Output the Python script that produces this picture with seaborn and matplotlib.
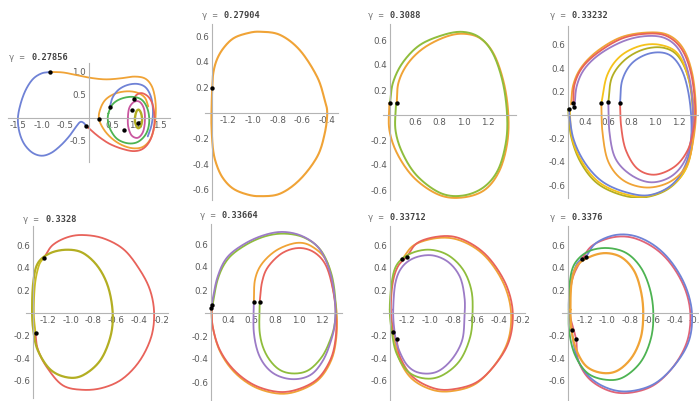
import numpy as np
import matplotlib
matplotlib.use("Agg")
import matplotlib.pyplot as plt
from matplotlib.ticker import FixedLocator, AutoMinorLocator
import seaborn as sns

sns.set_style("white")
plt.rcParams["font.family"] = ["DejaVu Sans"]
plt.rcParams["axes.unicode_minus"] = False

W, H = 699, 401

# ---------------- panel values ----------------
GAMMAS = ["0.27856", "0.27904", "0.3088", "0.33232",
          "0.3328", "0.33664", "0.33712", "0.3376"]

# gamma = 0.27856
P1_BLUE_OUT = [(-0.82, 1.0), (-1.0, 0.97), (-1.18, 0.85), (-1.33, 0.62), (-1.44, 0.32), (-1.5, 0.0),
               (-1.47, -0.3), (-1.37, -0.56), (-1.2, -0.75), (-1.0, -0.82), (-0.8, -0.76), (-0.6, -0.6),
               (-0.42, -0.4), (-0.28, -0.2), (-0.19, -0.09), (-0.12, -0.1), (-0.06, -0.17)]
P1_ORANGE = [(-0.82, 1.0), (-0.55, 0.99), (-0.25, 0.93), (0.05, 0.87), (0.35, 0.84), (0.65, 0.86),
             (0.95, 0.9), (1.18, 0.86), (1.32, 0.7), (1.39, 0.45), (1.41, 0.15), (1.38, -0.18),
             (1.3, -0.45), (1.15, -0.62), (0.95, -0.66), (0.72, -0.6), (0.5, -0.46), (0.32, -0.26),
             (0.21, -0.02), (0.24, 0.2), (0.35, 0.4), (0.55, 0.53), (0.8, 0.58), (1.02, 0.55),
             (1.18, 0.44), (1.25, 0.25)]
P1_BLUE_IN = [(0.44, 0.24), (0.5, 0.45), (0.63, 0.62), (0.82, 0.72), (1.03, 0.74), (1.2, 0.66),
              (1.31, 0.45), (1.35, 0.15), (1.32, -0.15), (1.24, -0.4)]
P1_RED = [(-0.06, -0.17), (0.08, -0.3), (0.25, -0.44), (0.45, -0.57), (0.7, -0.67), (0.95, -0.72),
          (1.15, -0.66), (1.3, -0.46), (1.38, -0.12), (1.36, 0.22), (1.27, 0.44), (1.12, 0.54),
          (1.0, 0.5), (0.95, 0.41)]
P1_GREEN = [(0.41, 0.1), (0.5, 0.3), (0.68, 0.42), (0.92, 0.46), (1.12, 0.39), (1.24, 0.18),
            (1.27, -0.1), (1.2, -0.35), (1.03, -0.52), (0.82, -0.55), (0.6, -0.46), (0.46, -0.27),
            (0.40, -0.07)]
P1_MAGENTA = [(0.82, 0.0), (0.85, 0.22), (0.95, 0.35), (1.07, 0.35), (1.16, 0.2), (1.18, -0.05),
              (1.14, -0.3), (1.03, -0.43), (0.9, -0.38), (0.83, -0.2)]
P1_OLIVE = [(0.97, 0.0), (1.0, 0.14), (1.05, 0.18), (1.1, 0.1), (1.12, -0.05), (1.09, -0.18),
            (1.03, -0.22), (0.98, -0.12)]
P1_DOTS = [(-0.82, 1.0), (-0.06, -0.17), (0.21, -0.02), (0.44, 0.24), (0.95, 0.41), (0.91, 0.17),
           (0.74, -0.26), (1.03, -0.11)]

# gamma = 0.27904
P2_ORANGE = [(-1.327, 0.198), (-1.319, 0.31), (-1.291, 0.414), (-1.238, 0.505), (-1.157, 0.583),
             (-1.049, 0.622), (-0.942, 0.635), (-0.78, 0.61), (-0.62, 0.49), (-0.48, 0.28),
             (-0.42, 0.10), (-0.40, 0.0), (-0.42, -0.16), (-0.48, -0.34), (-0.62, -0.52),
             (-0.78, -0.63), (-0.94, -0.65), (-1.05, -0.635), (-1.16, -0.59), (-1.24, -0.51),
             (-1.29, -0.41), (-1.32, -0.29), (-1.333, -0.1), (-1.332, 0.05)]
P2_DOTS = [(-1.327, 0.198)]

# gamma = 0.3088
P3_GREEN = [(0.395, 0.096), (0.42, 0.26), (0.50, 0.42), (0.64, 0.56), (0.83, 0.64), (0.99, 0.665),
            (1.13, 0.62), (1.24, 0.49), (1.32, 0.26), (1.355, 0.0), (1.345, -0.22), (1.28, -0.44),
            (1.16, -0.58), (0.99, -0.645), (0.81, -0.625), (0.62, -0.49), (0.50, -0.31),
            (0.44, -0.12), (0.445, 0.096)]
P3_ORANGE = [(0.45, 0.096), (0.465, 0.26), (0.54, 0.41), (0.67, 0.535), (0.85, 0.625), (1.0, 0.65),
             (1.14, 0.61), (1.25, 0.48), (1.33, 0.25), (1.365, 0.0), (1.355, -0.23), (1.29, -0.45),
             (1.17, -0.6), (0.99, -0.66), (0.80, -0.64), (0.6, -0.51), (0.46, -0.32), (0.39, -0.12),
             (0.39, 0.096)]
P3_DOTS = [(0.395, 0.096), (0.45, 0.096)]

# gamma = 0.33232
P4_RED = [(0.30, 0.10), (0.31, 0.26), (0.38, 0.41), (0.52, 0.54), (0.72, 0.655), (0.93, 0.695),
          (1.10, 0.675), (1.23, 0.56), (1.31, 0.35), (1.345, 0.06), (1.33, -0.12), (1.28, -0.3),
          (1.17, -0.44), (1.0, -0.51), (0.85, -0.46), (0.75, -0.3), (0.71, -0.1), (0.70, 0.10)]
P4_BLUE = [(0.70, 0.10), (0.72, 0.3), (0.81, 0.45), (0.97, 0.53), (1.13, 0.51), (1.24, 0.36),
           (1.30, 0.1), (1.31, -0.2), (1.26, -0.43), (1.14, -0.6), (0.95, -0.685), (0.75, -0.66),
           (0.55, -0.57), (0.40, -0.41), (0.30, -0.2), (0.26, 0.05)]
P4_PURPLE = [(0.31, 0.07), (0.33, 0.25), (0.40, 0.40), (0.54, 0.53), (0.74, 0.635), (0.93, 0.675),
             (1.09, 0.655), (1.21, 0.55), (1.29, 0.34), (1.325, 0.06), (1.31, -0.2), (1.25, -0.4),
             (1.13, -0.53), (0.96, -0.575), (0.79, -0.51), (0.66, -0.37), (0.61, -0.15), (0.60, 0.11)]
P4_OLIVE = [(0.60, 0.11), (0.63, 0.32), (0.74, 0.47), (0.90, 0.56), (1.07, 0.575), (1.20, 0.5),
            (1.29, 0.3), (1.325, 0.0), (1.31, -0.3), (1.24, -0.5), (1.1, -0.64), (0.9, -0.705),
            (0.7, -0.68), (0.5, -0.58), (0.36, -0.4), (0.28, -0.18), (0.255, 0.05)]
P4_ORANGE = [(0.28, 0.09), (0.30, 0.26), (0.37, 0.41), (0.51, 0.55), (0.71, 0.665), (0.93, 0.705),
             (1.11, 0.685), (1.24, 0.57), (1.32, 0.35), (1.35, 0.05), (1.33, -0.2), (1.27, -0.43),
             (1.13, -0.57), (0.93, -0.62), (0.73, -0.56), (0.60, -0.40), (0.55, -0.15), (0.54, 0.10)]
P4_YELLOW = [(0.54, 0.10), (0.59, 0.34), (0.70, 0.50), (0.87, 0.59), (1.04, 0.60), (1.19, 0.53),
             (1.28, 0.34), (1.335, 0.05), (1.32, -0.25), (1.26, -0.47), (1.12, -0.62), (0.92, -0.695),
             (0.72, -0.67), (0.52, -0.575), (0.38, -0.41), (0.29, -0.2), (0.27, 0.04)]
P4_DOTS = [(0.26, 0.05), (0.30, 0.10), (0.31, 0.07), (0.54, 0.10), (0.60, 0.11), (0.70, 0.10)]

# gamma = 0.3328
P5_RED = [(-1.235, 0.49), (-1.16, 0.60), (-1.03, 0.67), (-0.89, 0.69), (-0.71, 0.66), (-0.53, 0.56),
          (-0.39, 0.38), (-0.30, 0.20), (-0.265, 0.0), (-0.29, -0.21), (-0.39, -0.42), (-0.54, -0.58),
          (-0.71, -0.66), (-0.89, -0.68), (-1.07, -0.64), (-1.21, -0.48), (-1.29, -0.32), (-1.31, -0.18)]
P5_OLIVE = [(-1.34, 0.03), (-1.33, 0.27), (-1.29, 0.44), (-1.18, 0.53), (-1.03, 0.56), (-0.89, 0.53),
            (-0.76, 0.41), (-0.67, 0.23), (-0.63, 0.0), (-0.65, -0.21), (-0.74, -0.42), (-0.89, -0.55),
            (-1.03, -0.57), (-1.18, -0.50), (-1.29, -0.33), (-1.33, -0.15)]
P5_YELLOW = [(-1.31, -0.18), (-1.325, 0.0), (-1.315, 0.25), (-1.28, 0.42), (-1.235, 0.49)]
P5_DOTS = [(-1.235, 0.49), (-1.31, -0.18)]

# gamma = 0.33664
P6_PURPLE = [(0.26, 0.07), (0.31, 0.31), (0.39, 0.48), (0.53, 0.595), (0.70, 0.675), (0.87, 0.705),
             (1.04, 0.665), (1.18, 0.555), (1.27, 0.35), (1.31, 0.11), (1.31, -0.08), (1.28, -0.23),
             (1.21, -0.41), (1.10, -0.54), (0.94, -0.575), (0.78, -0.52), (0.67, -0.38), (0.62, -0.17),
             (0.62, 0.10)]
P6_GREEN = [(0.265, 0.05), (0.315, 0.30), (0.40, 0.47), (0.54, 0.585), (0.71, 0.665), (0.88, 0.69),
            (1.05, 0.655), (1.19, 0.545), (1.28, 0.34), (1.315, 0.1), (1.31, -0.08), (1.275, -0.22),
            (1.20, -0.38), (1.08, -0.50), (0.94, -0.525), (0.82, -0.48), (0.72, -0.35), (0.67, -0.17),
            (0.67, 0.10)]
P6_ORANGE = [(0.62, 0.10), (0.63, 0.29), (0.69, 0.43), (0.82, 0.55), (0.99, 0.61), (1.12, 0.575),
             (1.24, 0.45), (1.29, 0.23), (1.325, 0.0), (1.32, -0.23), (1.275, -0.42), (1.165, -0.585),
             (0.99, -0.68), (0.82, -0.70), (0.62, -0.64), (0.45, -0.51), (0.33, -0.33), (0.27, -0.12),
             (0.26, 0.05)]
P6_RED = [(0.67, 0.10), (0.69, 0.27), (0.74, 0.40), (0.86, 0.52), (1.00, 0.565), (1.13, 0.53),
          (1.23, 0.42), (1.29, 0.22), (1.32, -0.02), (1.315, -0.23), (1.27, -0.41), (1.16, -0.575),
          (0.99, -0.665), (0.82, -0.685), (0.62, -0.625), (0.45, -0.495), (0.33, -0.32), (0.27, -0.12),
          (0.26, 0.04)]
P6_DOTS = [(0.26, 0.07), (0.255, 0.045), (0.62, 0.10), (0.67, 0.10)]

# gamma = 0.33712
P7_RED = [(-1.2, 0.50), (-1.11, 0.62), (-0.94, 0.675), (-0.77, 0.67), (-0.59, 0.58), (-0.45, 0.44),
          (-0.33, 0.23), (-0.28, 0.0), (-0.31, -0.24), (-0.42, -0.44), (-0.59, -0.61), (-0.80, -0.675),
          (-0.97, -0.665), (-1.15, -0.565), (-1.26, -0.39), (-1.29, -0.23)]
P7_RED_LEFT = [(-1.32, -0.17), (-1.34, 0.03), (-1.325, 0.26), (-1.28, 0.41), (-1.2, 0.50)]
P7_ORANGE = [(-1.24, 0.48), (-1.14, 0.60), (-0.96, 0.66), (-0.78, 0.655), (-0.60, 0.57), (-0.46, 0.43),
             (-0.345, 0.225), (-0.295, 0.0), (-0.32, -0.24), (-0.43, -0.45), (-0.60, -0.625),
             (-0.80, -0.69), (-0.98, -0.68), (-1.16, -0.58), (-1.27, -0.40), (-1.32, -0.17)]
P7_GREEN = [(-1.35, 0.03), (-1.33, 0.29), (-1.28, 0.44), (-1.16, 0.53), (-1.00, 0.56), (-0.84, 0.51),
            (-0.71, 0.38), (-0.64, 0.20), (-0.63, 0.0), (-0.65, -0.21), (-0.74, -0.42), (-0.89, -0.55),
            (-1.04, -0.58), (-1.19, -0.52), (-1.29, -0.36), (-1.33, -0.18)]
P7_PURPLE = [(-1.32, 0.03), (-1.30, 0.27), (-1.24, 0.41), (-1.13, 0.49), (-0.98, 0.51), (-0.84, 0.45),
             (-0.74, 0.32), (-0.70, 0.14), (-0.70, -0.03), (-0.72, -0.24), (-0.81, -0.41), (-0.94, -0.52),
             (-1.09, -0.53), (-1.20, -0.46), (-1.28, -0.30), (-1.31, -0.15)]
P7_DOTS = [(-1.24, 0.48), (-1.2, 0.50), (-1.32, -0.17), (-1.29, -0.23)]

# gamma = 0.3376
P8_BLUE = [(-1.19, 0.50), (-1.10, 0.62), (-0.93, 0.69), (-0.75, 0.68), (-0.57, 0.59), (-0.42, 0.44),
           (-0.30, 0.23), (-0.245, 0.0), (-0.27, -0.24), (-0.39, -0.45), (-0.57, -0.62), (-0.78, -0.69),
           (-0.97, -0.675), (-1.15, -0.575), (-1.27, -0.40), (-1.32, -0.15), (-1.345, 0.05),
           (-1.33, 0.26), (-1.28, 0.42), (-1.23, 0.48)]
P8_RED = [(-1.23, 0.48), (-1.13, 0.60), (-0.95, 0.67), (-0.77, 0.665), (-0.58, 0.575), (-0.43, 0.43),
          (-0.31, 0.22), (-0.26, 0.0), (-0.285, -0.24), (-0.40, -0.46), (-0.58, -0.635), (-0.79, -0.705),
          (-0.98, -0.69), (-1.16, -0.585), (-1.26, -0.42), (-1.28, -0.23), (-1.335, 0.0),
          (-1.32, 0.27), (-1.25, 0.44), (-1.19, 0.50)]
P8_GREEN = [(-1.345, 0.03), (-1.335, 0.28), (-1.29, 0.44), (-1.17, 0.545), (-1.0, 0.575), (-0.83, 0.53),
            (-0.70, 0.40), (-0.62, 0.21), (-0.59, 0.0), (-0.61, -0.22), (-0.70, -0.43), (-0.86, -0.57),
            (-1.02, -0.59), (-1.18, -0.53), (-1.29, -0.37), (-1.34, -0.17)]
P8_ORANGE = [(-1.33, 0.03), (-1.32, 0.27), (-1.27, 0.42), (-1.15, 0.50), (-1.01, 0.53), (-0.87, 0.49),
             (-0.76, 0.37), (-0.70, 0.19), (-0.68, 0.0), (-0.70, -0.21), (-0.78, -0.39), (-0.91, -0.51),
             (-1.05, -0.53), (-1.19, -0.47), (-1.28, -0.32), (-1.32, -0.15)]
P8_DOTS = [(-1.23, 0.48), (-1.19, 0.50), (-1.32, -0.15), (-1.28, -0.23)]

# tick values per panel
XT_P1 = [-1.5, -1.0, -0.5, 0.5, 1.0, 1.5]
YT_P1 = [-0.5, 0.5, 1.0]
XT_NEG = [-1.2, -1.0, -0.8, -0.6, -0.4, -0.2]
XT_POS = [0.4, 0.6, 0.8, 1.0, 1.2]
YT_STD = [-0.6, -0.4, -0.2, 0.2, 0.4, 0.6]

# ---------------- colours ----------------
BLUE = "#6f82d6"
ORANGE = "#f0a336"
GREEN = "#4db352"
LIME = "#8fbd3c"
RED = "#e8625a"
PINK = "#e06478"
PURPLE = "#9c7bc6"
OLIVE = "#b3ae22"
YELLOW = "#f5c21a"
MAGENTA = "#c957a0"
AXIS_C = "#b4b4b4"
LABEL_C = "#5a5a5a"


def smooth_path(pts, closed=False, n=16):
    """Catmull-Rom path through the listed points, for a smooth drawn curve."""
    P = np.asarray(pts, float)
    if closed:
        E = np.vstack([P[-1], P, P[0], P[1]])
    else:
        E = np.vstack([2 * P[0] - P[1], P, 2 * P[-1] - P[-2]])
    t = np.linspace(0, 1, n, endpoint=False)[:, None]
    segs = []
    for i in range(1, len(E) - 2):
        p0, p1, p2, p3 = E[i - 1], E[i], E[i + 1], E[i + 2]
        segs.append(0.5 * (2 * p1 + (-p0 + p2) * t + (2 * p0 - 5 * p1 + 4 * p2 - p3) * t ** 2
                           + (-p0 + 3 * p1 - 3 * p2 + p3) * t ** 3))
    segs.append(E[-2][None])
    return np.vstack(segs)


def curve(ax, pts, color, closed=False, lw=1.3):
    xy = smooth_path(pts, closed)
    sns.lineplot(x=xy[:, 0], y=xy[:, 1], sort=False, estimator=None, color=color,
                 linewidth=lw, ax=ax, legend=False)


def dots(ax, pts):
    xy = np.asarray(pts, float)
    sns.scatterplot(x=xy[:, 0], y=xy[:, 1], color="black", s=10, linewidth=0, zorder=5,
                    ax=ax, legend=False)


def fmt(v):
    return ("%.1f" % v)


fig = plt.figure(figsize=(W / 100, H / 100), dpi=100)


def make_axes(L, R, T, B, xref, pxref, sx, y0px, sy, axis_x, xt, yt, minor_x, minor_y):
    ax = fig.add_axes([L / W, 1 - B / H, (R - L) / W, (B - T) / H])
    ax.set_xlim(xref + (L - pxref) / sx, xref + (R - pxref) / sx)
    ax.set_ylim((y0px - B) / sy, (y0px - T) / sy)
    ax.set_facecolor("none")
    for s in ("top", "right"):
        ax.spines[s].set_visible(False)
    ax.spines["left"].set_position(("data", axis_x))
    ax.spines["bottom"].set_position(("data", 0.0))
    for s in ("left", "bottom"):
        ax.spines[s].set_color(AXIS_C)
        ax.spines[s].set_linewidth(0.8)
    ax.xaxis.set_major_locator(FixedLocator(xt))
    ax.yaxis.set_major_locator(FixedLocator(yt))
    ax.set_xticklabels([fmt(v) for v in xt])
    ax.set_yticklabels([fmt(v) for v in yt])
    ax.xaxis.set_minor_locator(AutoMinorLocator(minor_x))
    ax.yaxis.set_minor_locator(AutoMinorLocator(minor_y))
    ax.tick_params(which="major", direction="in", length=2.6, width=0.6, color=AXIS_C,
                   labelsize=6.3, labelcolor=LABEL_C, pad=2)
    ax.tick_params(which="minor", direction="in", length=1.3, width=0.5, color=AXIS_C)
    ax.set_xlabel("")
    ax.set_ylabel("")
    ax.grid(False)
    return ax


def title(px, py, g):
    fig.text(px / W, 1 - py / H, "\u03b3 = ", fontsize=6.2, color="#777777",
             family="DejaVu Sans Mono", va="center", ha="left")
    fig.text((px + 22) / W, 1 - py / H, g, fontsize=6.2, color="#444444",
             family="DejaVu Sans Mono", weight="bold", va="center", ha="left")


# panel 1
ax1 = make_axes(8, 170, 63, 162, 0.0, 89, 47.4, 118, 46, 0.0, XT_P1, YT_P1, 5, 5)
curve(ax1, P1_BLUE_OUT, BLUE)
curve(ax1, P1_ORANGE, ORANGE)
curve(ax1, P1_BLUE_IN, BLUE)
curve(ax1, P1_RED, RED)
curve(ax1, P1_GREEN, GREEN, closed=True)
curve(ax1, P1_MAGENTA, MAGENTA, closed=True)
curve(ax1, P1_OLIVE, OLIVE, closed=True, lw=1.7)
dots(ax1, P1_DOTS)
title(9, 57, GAMMAS[0])

# panel 2
ax2 = make_axes(205, 338, 24, 200, -1.2, 228, 124, 113, 128, -1.33, XT_NEG[:5], YT_STD, 4, 4)
curve(ax2, P2_ORANGE, ORANGE, closed=True, lw=1.5)
dots(ax2, P2_DOTS)
title(202, 15, GAMMAS[1])

# panel 3
ax3 = make_axes(383, 516, 24, 200, 0.6, 415, 122, 115, 125, 0.395, XT_POS[1:], YT_STD, 4, 4)
curve(ax3, P3_ORANGE, ORANGE, lw=1.4)
curve(ax3, P3_GREEN, LIME, lw=1.4)
dots(ax3, P3_DOTS)
title(368, 15, GAMMAS[2])

# panel 4
ax4 = make_axes(562, 699, 26, 198, 0.4, 585, 116.7, 115, 117, 0.254, XT_POS, YT_STD, 4, 4)
curve(ax4, P4_OLIVE, OLIVE)
curve(ax4, P4_YELLOW, YELLOW)
curve(ax4, P4_BLUE, BLUE)
curve(ax4, P4_ORANGE, ORANGE)
curve(ax4, P4_PURPLE, PURPLE)
curve(ax4, P4_RED, RED)
dots(ax4, P4_DOTS)
title(550, 15, GAMMAS[3])

# panel 5
ax5 = make_axes(26, 168, 226, 398, -1.2, 48, 113.5, 313, 113, -1.33, XT_NEG, YT_STD, 4, 4)
curve(ax5, P5_RED, RED)
curve(ax5, P5_OLIVE, OLIVE, closed=True, lw=1.6)
curve(ax5, P5_YELLOW, "#c9bb24", lw=1.3)
dots(ax5, P5_DOTS)
title(23, 220, GAMMAS[4])

# panel 6
ax6 = make_axes(205, 342, 224, 400, 0.4, 228, 117.5, 313, 115, 0.255, XT_POS, YT_STD, 4, 4)
curve(ax6, P6_ORANGE, ORANGE)
curve(ax6, P6_RED, RED)
curve(ax6, P6_GREEN, LIME)
curve(ax6, P6_PURPLE, PURPLE)
dots(ax6, P6_DOTS)
title(200, 215, GAMMAS[5])

# panel 7
ax7 = make_axes(383, 525, 226, 400, -1.2, 407, 115, 313, 113, -1.348, XT_NEG, YT_STD, 4, 4)
curve(ax7, P7_ORANGE, ORANGE)
curve(ax7, P7_RED, RED)
curve(ax7, P7_RED_LEFT, RED)
curve(ax7, P7_GREEN, LIME, closed=True)
curve(ax7, P7_PURPLE, PURPLE, closed=True)
dots(ax7, P7_DOTS)
title(368, 218, GAMMAS[6])

# panel 8
ax8 = make_axes(562, 699, 226, 400, -1.2, 585, 112, 313, 113, -1.35, XT_NEG, YT_STD, 4, 4)
curve(ax8, P8_RED, PINK)
curve(ax8, P8_BLUE, BLUE)
curve(ax8, P8_GREEN, GREEN, closed=True)
curve(ax8, P8_ORANGE, ORANGE, closed=True, lw=1.6)
dots(ax8, P8_DOTS)
title(550, 218, GAMMAS[7])

fig.savefig("out.png", dpi=100)
